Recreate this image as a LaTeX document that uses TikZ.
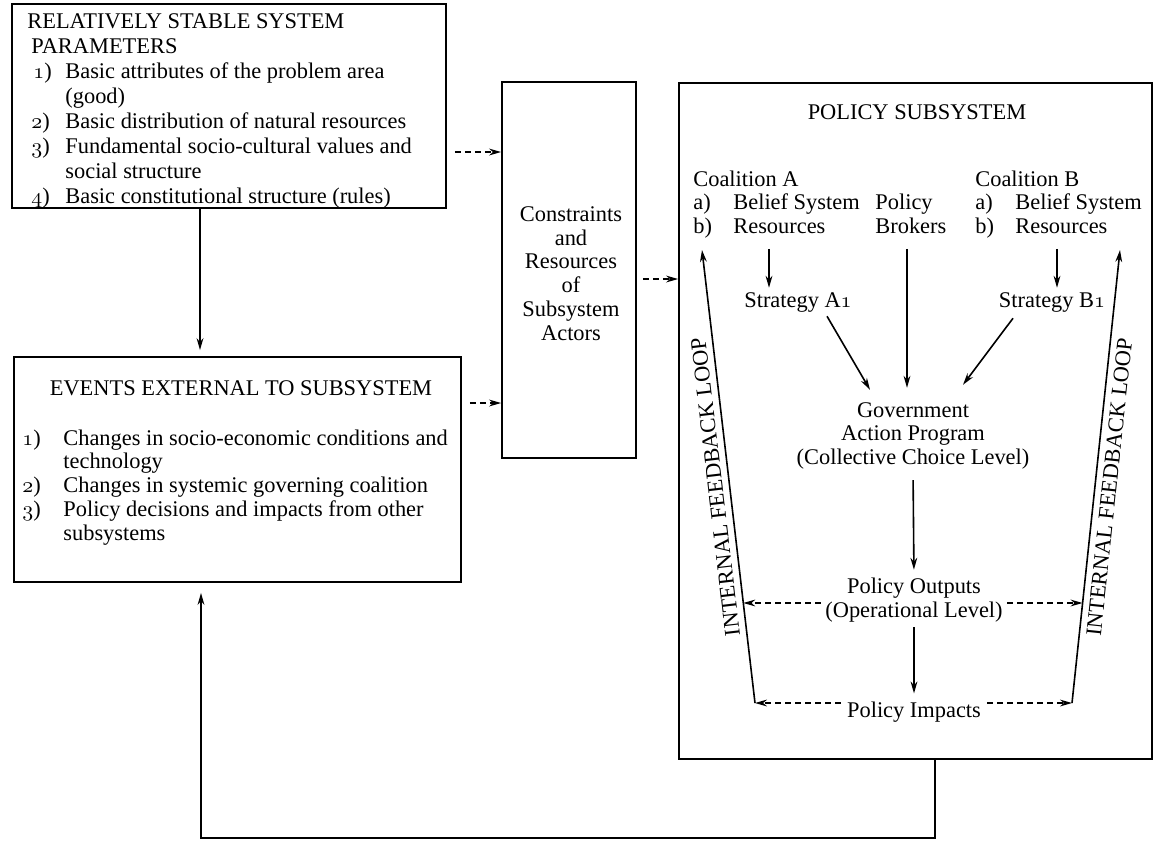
\documentclass[tikz,border=0pt]{standalone}
\usepackage{fontspec}
\setmainfont{Liberation Serif}
\usepackage{tikz}
\usetikzlibrary{arrows.meta}
\usetikzlibrary{calc}
\usetikzlibrary{positioning}

\newcommand{\osnum}[1]{{\usefont{OML}{cmm}{m}{it}#1}}

\begin{document}
\begin{tikzpicture}[x=0.5pt,y=-0.5pt,
        every node/.style={inner sep=0pt,font=\fontsize{11.2}{11.9}\selectfont},
        box/.style={draw,line width=0.9pt},
        arr/.style={line width=0.8pt,-{Stealth[length=6pt,width=3.4pt]}},
        darr/.style={arr,dash pattern=on 3pt off 2pt},
        loop label/.style={sloped,pos=0.48}]

    \useasboundingbox (0,0) rectangle (1157,843);

    \node[box,minimum width=217pt,minimum height=102pt] (params) at (229,106) {};
    \node[anchor=north west,font=\fontsize{11.2}{12.5}\selectfont] (paramstext) at (27,10.5) {%
        \begin{tabular}{@{}p{19pt}@{}l@{}}
        \multicolumn{2}{@{}l@{}}{RELATIVELY STABLE SYSTEM}\\
        \multicolumn{2}{@{}l@{}}{\hspace{2pt}PARAMETERS}\\
        \hspace{3pt}\osnum{1})&Basic attributes of the problem area\\
        &(good)\\
        \hspace{2pt}\osnum{2})&Basic distribution of natural resources\\
        \hspace{2pt}\osnum{3})&Fundamental socio-cultural values and\\
        &social\ structure\\
        \hspace{2pt}\osnum{4})&Basic constitutional structure (rules)
        \end{tabular}};

    \node[box,minimum width=223.5pt,minimum height=112.5pt] (events) at (237.5,469.5) {};
    \node (eventstitle) at (241,388) {EVENTS EXTERNAL TO SUBSYSTEM};
    \node[anchor=north west] (eventstext) at (22,428) {%
        \begin{tabular}{@{}p{20.5pt}@{}l@{}}
        \osnum{1})&Changes in socio-economic conditions and\\
        &technology\\
        \osnum{2})&Changes in systemic governing coalition\\
        \osnum{3})&Policy decisions and impacts from other\\
        &subsystems
        \end{tabular}};

    \node[box,minimum width=67pt,minimum height=188pt] (cons) at (569,270) {};
    \node[align=center] (constext) at (571,273.5)
        {Constraints\\and\\Resources\\of\\Subsystem\\Actors};

    \node[box,minimum width=236.5pt,minimum height=338pt] (policy) at (915.5,421) {};
    \node (ptitle) at (917,112) {POLICY SUBSYSTEM};
    \node[anchor=north west,font=\fontsize{11.2}{11.75}\selectfont] (coalA) at (693,169.5) {%
        \begin{tabular}{@{}p{20pt}@{}l@{}}
        \multicolumn{2}{@{}l@{}}{Coalition A}\\
        a)&Belief System\\
        b)&Resources
        \end{tabular}};
    \node[anchor=north west,font=\fontsize{11.2}{11.75}\selectfont] (coalB) at (975,169.5) {%
        \begin{tabular}{@{}p{20pt}@{}l@{}}
        \multicolumn{2}{@{}l@{}}{Coalition B}\\
        a)&Belief System\\
        b)&Resources
        \end{tabular}};
    \node[anchor=north west,font=\fontsize{11.2}{11.75}\selectfont] (brokers) at (875,193) {%
        \begin{tabular}{@{}l@{}}Policy\\Brokers\end{tabular}};
    \node (stratA) at (798,302) {Strategy A\osnum{1}};
    \node (stratB) at (1052,302) {Strategy B\osnum{1}};
    \node[align=center,font=\fontsize{11.2}{11.75}\selectfont] (gov) at (913,435.5)
        {Government\\Action Program\\(Collective Choice Level)};
    \node[align=center,font=\fontsize{11.2}{11.75}\selectfont] (outputs) at (914,600)
        {Policy Outputs\\(Operational Level)};
    \node (impacts) at (914,712) {Policy Impacts};

    \coordinate (pv) at (200,0);
    \draw[arr,shorten >=3pt] (pv |- params.south) -- (pv |- events.north);
    \draw[darr,shorten <=4pt] (params.east |- 0,152) -- (cons.west |- 0,152);
    \draw[darr,shorten <=4pt] (events.east |- 0,403) -- (cons.west |- 0,403);
    \draw[darr,shorten <=3pt] (cons.east |- 0,279) -- (policy.west |- 0,279);

    \coordinate (ax) at (769,0);
    \coordinate (mx) at (907,0);
    \coordinate (bx) at (1057,0);
    \draw[arr,shorten <=4pt,shorten >=2pt] (ax |- coalA.south) -- (ax |- stratA.north);
    \draw[arr,shorten <=4pt,shorten >=2pt] (bx |- coalB.south) -- (bx |- stratB.north);
    \draw[arr,shorten <=4pt,shorten >=7pt] (mx |- brokers.south) -- (mx |- gov.north);
    \draw[arr] ([xshift=14.5pt,yshift=-2pt]stratA.south) -- ([xshift=-21.5pt,yshift=6pt]gov.north);
    \draw[arr] ([xshift=-19.5pt,yshift=-3pt]stratB.south) -- ([xshift=25pt,yshift=8.5pt]gov.north);
    \draw[arr,shorten <=5.5pt,shorten >=4pt] (gov.south) -- (outputs.north);
    \draw[arr,shorten <=2.5pt,shorten >=4pt] (outputs.south) -- (impacts.north);

    \coordinate (lbot) at (755,703);
    \coordinate (ltop) at (702,250);
    \coordinate (rbot) at (1072,703);
    \coordinate (rtop) at (1120,250);
    \draw[arr] (lbot) -- node[loop label,allow upside down,above=3pt] (loopA) {INTERNAL FEEDBACK LOOP} (ltop);
    \draw[arr] (rbot) -- node[loop label,below=3pt] (loopB) {INTERNAL FEEDBACK LOOP} (rtop);

    \coordinate (lmid) at ($(lbot)!0.2208!(ltop)$);
    \coordinate (rmid) at ($(rbot)!0.2208!(rtop)$);
    \draw[darr,shorten <=2pt] (outputs.west |- lmid) -- (lmid);
    \draw[darr,shorten <=2pt] (outputs.east |- rmid) -- (rmid);
    \draw[darr,shorten <=3pt] (impacts.west |- lbot) -- (lbot);
    \draw[darr,shorten <=3pt] (impacts.east |- rbot) -- (rbot);

    \coordinate (fbR) at (935,838);
    \coordinate (fbL) at (201,838);
    \draw[arr,shorten >=5pt] (fbR |- policy.south) -- (fbR) -- (fbL) -- (fbL |- events.south);
\end{tikzpicture}
\end{document}
